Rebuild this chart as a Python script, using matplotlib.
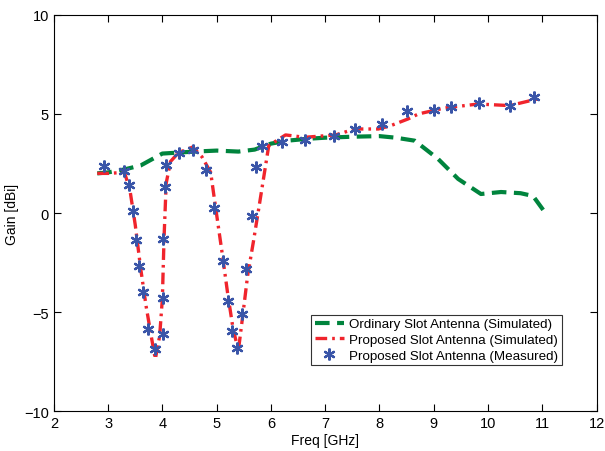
import numpy as np
import matplotlib.pyplot as plt

plt.rcParams['font.family'] = ['Liberation Sans', 'DejaVu Sans']

# ordinary slot antenna (simulated)
ord_freq = [2.8, 3.0, 3.3, 3.6, 3.8, 4.0, 4.3, 4.6, 5.0, 5.4, 5.7, 6.0, 6.3, 6.7, 7.0,
            7.5, 8.0, 8.3, 8.65, 9.08, 9.45, 9.87, 10.24, 10.6, 10.83, 11.04]
ord_gain = [2.0, 2.05, 2.2, 2.4, 2.7, 3.0, 3.05, 3.1, 3.15, 3.1, 3.2, 3.5, 3.65, 3.75, 3.8,
            3.85, 3.88, 3.8, 3.65, 2.73, 1.72, 0.96, 1.06, 1.0, 0.86, 0.07]

# proposed slot antenna (simulated)
sim_freq = [2.8, 3.0, 3.3, 3.4, 3.5, 3.6, 3.7, 3.8, 3.87, 3.95, 4.0, 4.03, 4.07, 4.15,
            4.3, 4.56, 4.73, 4.89, 4.95, 5.1, 5.2, 5.3, 5.4, 5.48, 5.57, 5.68, 5.78, 5.96,
            6.27, 6.62, 7.19, 7.55, 7.98, 8.2, 8.53, 8.72, 9.2, 9.82, 10.4, 10.98]
sim_gain = [2.0, 2.0, 2.05, 1.2, -0.6, -2.8, -4.7, -6.3, -7.37, -6.2, -4.3, -1.3, 1.5, 2.6,
            3.05, 3.33, 2.83, 2.05, 0.87, -2.0, -4.0, -5.8, -6.95, -5.2, -3.17, -1.4, 0.3, 3.4,
            3.94, 3.82, 3.94, 4.24, 4.24, 4.4, 4.75, 5.0, 5.3, 5.5, 5.42, 5.8]

# proposed slot antenna (measured)
meas_freq = [2.92, 3.30, 3.39, 3.46, 3.52, 3.57, 3.64, 3.74, 3.86, 4.01, 4.01, 4.02, 4.04,
             4.07, 4.30, 4.56, 4.81, 4.95, 5.11, 5.21, 5.28, 5.38, 5.47, 5.54, 5.65, 5.72,
             5.83, 6.21, 6.62, 7.17, 7.55, 8.04, 8.5, 9.01, 9.31, 9.83, 10.4, 10.84]
meas_gain = [2.36, 2.14, 1.41, 0.08, -1.35, -2.66, -3.97, -5.83, -6.87, -6.11, -4.31, -1.31,
             1.3, 2.42, 3.03, 3.2, 2.19, 0.24, -2.44, -4.43, -5.94, -6.83, -5.1, -2.83, -0.13,
             2.31, 3.4, 3.6, 3.7, 3.87, 4.24, 4.5, 5.15, 5.2, 5.34, 5.54, 5.42, 5.87]

fig = plt.figure(figsize=(6.05, 4.52), dpi=100)
ax = fig.add_axes([0.089, 0.088, 0.897, 0.877])

ax.plot(ord_freq, ord_gain, color='#00843d', linestyle=(0, (3.5, 1.8)), linewidth=3,
        label='Ordinary Slot Antenna (Simulated)')
ax.plot(sim_freq, sim_gain, color='#f0242c', linestyle=(0, (3.5, 1.5, 0.8, 1.5)), linewidth=2.4,
        label='Proposed Slot Antenna (Simulated)')
ax.plot(meas_freq, meas_gain, linestyle='none', marker=(6, 2, 0), markersize=8.5,
        markeredgewidth=1.6, color='#3a55a8', label='Proposed Slot Antenna (Measured)')

ax.set_xlim(2, 12)
ax.set_ylim(-10, 10)
ax.set_xticks(np.arange(2, 13, 1))
ax.set_yticks([-10, -5, 0, 5, 10])
ax.tick_params(direction='in', top=True, right=True, labelsize=10.5, length=5)
ax.set_xlabel('Freq [GHz]', fontsize=10, labelpad=2)
ax.set_ylabel('Gain [dBi]', fontsize=10)

leg = ax.legend(loc='lower right', bbox_to_anchor=(0.948, 0.1), fontsize=9.6, fancybox=False,
                edgecolor='#333333', framealpha=1, handlelength=2.2, borderpad=0.25,
                labelspacing=0.25, handletextpad=0.4)
leg.get_frame().set_linewidth(0.8)

fig.savefig('out.png', dpi=100)
